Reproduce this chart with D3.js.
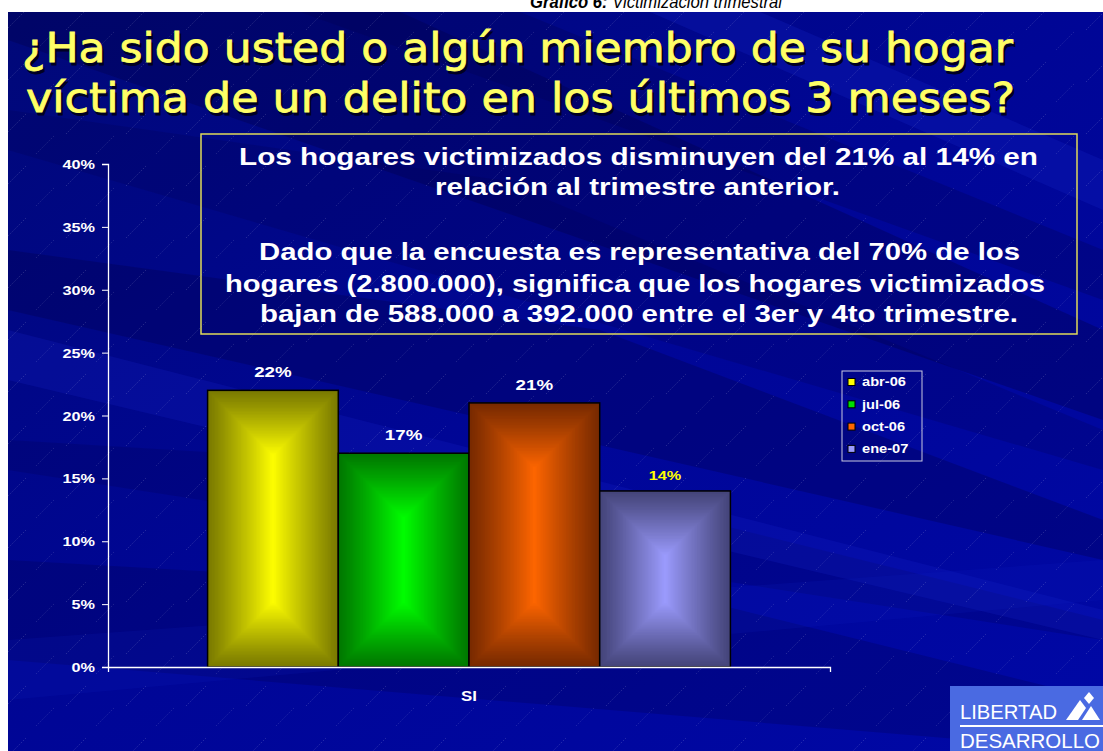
<!DOCTYPE html>
<html><head><meta charset="utf-8">
<script src="https://cdn.jsdelivr.net/npm/d3@7"></script>
<style>body{margin:0;background:#fff}svg{display:block}</style>
</head><body>
<script>
const categories = ["SI"];
const series = ["abr-06", "jul-06", "oct-06", "ene-07"];
const values = [0.22, 0.17, 0.21, 0.14];
const valueLabels = ["22%", "17%", "21%", "14%"];
const yTicks = [0, 0.05, 0.10, 0.15, 0.20, 0.25, 0.30, 0.35, 0.40];
const titleLines = ["¿Ha sido usted o algún miembro de su hogar", "víctima de un delito en los últimos 3 meses?"];
const boxLines = ["Los hogares victimizados disminuyen  del 21% al 14% en", "relación al trimestre anterior.", "Dado que la encuesta es representativa del 70% de los", "hogares (2.800.000), significa que los hogares victimizados", "bajan de 588.000 a 392.000 entre el 3er y 4to trimestre."];

const W = 1103, H = 751;
const FONT = "Liberation Sans, Arial, sans-serif";
const svg = d3.select("body").append("svg").attr("width", W).attr("height", H);
const defs = svg.append("defs");

function stretch(sel, f) {
  sel.each(function () {
    const n = this.getComputedTextLength();
    d3.select(this).attr("textLength", n * f).attr("lengthAdjust", "spacingAndGlyphs");
  });
}

const colors = [["#7a7a00", "#ffff00"], ["#007800", "#00ff00"], ["#782a00", "#ff6600"], ["#45457a", "#9c9cff"]];
const legendColors = ["#ffff00", "#00e000", "#ff6600", "#9a9aff"];

const pat = defs.append("pattern").attr("id", "hatch").attr("patternUnits", "userSpaceOnUse").attr("width", 60).attr("height", 52);
pat.append("line").attr("x1", 6).attr("y1", 30).attr("x2", 26).attr("y2", 10)
  .attr("stroke", "#ffffff").attr("stroke-opacity", 0.18).attr("stroke-width", 0.8).attr("stroke-dasharray", "1.5,1.5");
pat.append("line").attr("x1", 36).attr("y1", 50).attr("x2", 54).attr("y2", 32)
  .attr("stroke", "#ffffff").attr("stroke-opacity", 0.14).attr("stroke-width", 0.8).attr("stroke-dasharray", "1.5,1.5");

const bgGrad = defs.append("linearGradient").attr("id", "bg").attr("x1", "0").attr("y1", "0").attr("x2", "1").attr("y2", "1");
bgGrad.append("stop").attr("offset", "0%").attr("stop-color", "#000878");
bgGrad.append("stop").attr("offset", "50%").attr("stop-color", "#000696");
bgGrad.append("stop").attr("offset", "100%").attr("stop-color", "#0008a6");

// top header (cut off by the slide)
const hdr = svg.append("text").attr("x", 530).attr("y", 8)
  .attr("font-family", FONT).attr("font-size", 19).attr("font-style", "italic").attr("fill", "#000");
hdr.append("tspan").attr("font-weight", "bold").text("Gráfico 6: ");
hdr.append("tspan").text("Victimización trimestral");
hdr.attr("textLength", 252).attr("lengthAdjust", "spacingAndGlyphs");

// background
const bgX = 8, bgY = 12;
svg.append("rect").attr("x", bgX).attr("y", bgY).attr("width", W - bgX).attr("height", H - bgY).attr("fill", "url(#bg)");
defs.append("clipPath").attr("id", "bgclip").append("rect").attr("x", bgX).attr("y", bgY).attr("width", W - bgX).attr("height", H - bgY);
const bands = svg.append("g").attr("clip-path", "url(#bgclip)");
const darkBands = [
  [[8,12],[400,12],[1103,330],[1103,420],[8,40]],
  [[8,250],[600,330],[1103,520],[1103,560],[8,310]],
  [[300,12],[520,12],[1103,250],[1103,300]],
  [[8,560],[700,600],[1103,700],[1103,751],[8,660]],
  [[8,110],[500,180],[1103,430],[1103,470],[8,150]],
  [[8,440],[500,470],[1103,620],[1103,640],[8,470]]
];
const bandOp = [0.35, 0.3, 0.25, 0.25, 0.2, 0.2];
darkBands.forEach((p, i) => bands.append("polygon").attr("points", p.map(d => d.join(",")).join(" "))
  .attr("fill", "#00004a").attr("opacity", bandOp[i]));
bands.append("polygon").attr("points", "8,330 1103,610 1103,640 8,380").attr("fill", "#1a2ad0").attr("opacity", 0.2);
bands.append("polygon").attr("points", "650,12 760,12 1103,160 1103,210").attr("fill", "#1020c0").attr("opacity", 0.3);
bands.append("polygon").attr("points", "8,640 1103,560 1103,600 8,700").attr("fill", "#1020c0").attr("opacity", 0.15);
svg.append("rect").attr("x", bgX).attr("y", bgY).attr("width", W - bgX).attr("height", H - bgY).attr("fill", "url(#hatch)");

// title
const titleG = svg.append("g").attr("font-family", "DejaVu Sans, sans-serif").attr("font-size", 40);
const titleX = [22, 26], titleY = [62, 112], titleLen = [991, 989];
titleLines.forEach((l, i) => {
  titleG.append("text").attr("x", titleX[i] + 2).attr("y", titleY[i] + 2.5).attr("fill", "#000022")
    .attr("stroke", "#000022").attr("stroke-width", 0.8)
    .attr("textLength", titleLen[i]).attr("lengthAdjust", "spacingAndGlyphs").text(l);
  titleG.append("text").attr("x", titleX[i]).attr("y", titleY[i]).attr("fill", "#ffff66")
    .attr("stroke", "#ffff66").attr("stroke-width", 0.8)
    .attr("textLength", titleLen[i]).attr("lengthAdjust", "spacingAndGlyphs").text(l);
});

// scales
const y = d3.scaleLinear().domain([0, 0.4]).range([667, 164]);
const x0 = d3.scaleBand().domain(categories).range([108, 830]).padding(0.16);
const x1 = d3.scaleBand().domain(series).range([0, x0.bandwidth()]).padding(0);

// y axis
const yAxis = svg.append("g").attr("transform", "translate(108,0)")
  .call(d3.axisLeft(y).tickValues(yTicks).tickFormat(d3.format(".0%")).tickSizeOuter(0).tickSize(6).tickPadding(7));
yAxis.select(".domain").attr("stroke", "#fff").attr("stroke-width", 1.3);
yAxis.selectAll(".tick line").attr("stroke", "#fff");
yAxis.selectAll(".tick text").attr("fill", "#fff").attr("font-family", FONT)
  .attr("font-weight", "bold").attr("font-size", 13).attr("dy", "0.35em").call(stretch, 1.25);

// bars: rectangular "from centre" gradient built from nested rects
const barG = svg.append("g").attr("transform", `translate(${x0("SI")},0)`);
const STEPS = 45;
series.forEach((s, i) => {
  const bx = x1(s), by = y(values[i]), bw = x1.bandwidth(), bh = y(0) - y(values[i]);
  const interp = d3.interpolateRgb(colors[i][0], colors[i][1]);
  const maxInset = Math.min(bw, bh) / 2;
  const g = barG.append("g");
  d3.range(STEPS).forEach(k => {
    const t = k / STEPS;
    const d = t * maxInset;
    g.append("rect").attr("x", bx + d).attr("y", by + d).attr("width", Math.max(0, bw - 2 * d)).attr("height", Math.max(0, bh - 2 * d))
      .attr("fill", interp(Math.pow(t, 1.1)));
  });
  barG.append("rect").attr("x", bx).attr("y", by).attr("width", bw).attr("height", bh)
    .attr("fill", "none").attr("stroke", "#000").attr("stroke-width", 1.5);
  barG.append("text").attr("x", bx + bw / 2).attr("y", by - (i === 3 ? 11 : 13))
    .attr("text-anchor", "middle").attr("font-family", FONT).attr("font-weight", "bold")
    .attr("font-size", i === 3 ? 13 : 15).attr("fill", i === 3 ? "#ffff00" : "#ffffff").text(valueLabels[i])
    .call(stretch, 1.25);
});

// x axis
const xAxis = svg.append("g").attr("transform", "translate(0,667)")
  .call(d3.axisBottom(x0).tickSize(0).tickSizeOuter(5).tickPadding(24));
xAxis.select(".domain").attr("stroke", "#fff").attr("stroke-width", 1.3);
xAxis.selectAll(".tick text").attr("fill", "#fff").attr("font-family", FONT)
  .attr("font-weight", "bold").attr("font-size", 14).call(stretch, 1.2);

// text box
svg.append("rect").attr("x", 201).attr("y", 134).attr("width", 876).attr("height", 200)
  .attr("fill", "none").attr("stroke", "#e0da5a").attr("stroke-width", 1.5);
const boxX = [239, 435, 259, 225, 260], boxY = [165, 195, 260, 292, 322], boxLen = [799, 405, 761, 820, 758];
boxLines.forEach((l, i) => {
  svg.append("text").attr("x", boxX[i]).attr("y", boxY[i])
    .attr("font-family", FONT).attr("font-weight", "bold").attr("font-size", 24)
    .attr("textLength", boxLen[i]).attr("lengthAdjust", "spacingAndGlyphs")
    .attr("fill", "#fff").text(l);
});

// legend
const lg = svg.append("g");
lg.append("rect").attr("x", 842).attr("y", 371).attr("width", 80).attr("height", 90).attr("fill", "none").attr("stroke", "#c8c8e0").attr("stroke-width", 1);
series.forEach((s, i) => {
  const yy = 382 + i * 22.3;
  lg.append("rect").attr("x", 848).attr("y", yy - 3.5).attr("width", 7).attr("height", 7).attr("fill", legendColors[i]).attr("stroke", "#000").attr("stroke-width", 1);
  lg.append("text").attr("x", 862).attr("y", yy).attr("dy", "0.35em").attr("font-family", FONT)
    .attr("font-weight", "bold").attr("font-size", 12).attr("fill", "#fff").text(s).call(stretch, 1.22);
});

// logo
const logo = svg.append("g");
logo.append("rect").attr("x", 950).attr("y", 686).attr("width", 153).attr("height", 65).attr("fill", "#4a6ae2");
logo.append("text").attr("x", 960).attr("y", 719).attr("font-family", FONT).attr("font-size", 21).attr("fill", "#fff")
  .attr("textLength", 97).attr("lengthAdjust", "spacingAndGlyphs").text("LIBERTAD");
logo.append("line").attr("x1", 960).attr("x2", 1103).attr("y1", 726).attr("y2", 726).attr("stroke", "#fff").attr("stroke-width", 2);
logo.append("text").attr("x", 960).attr("y", 748).attr("font-family", FONT).attr("font-size", 21).attr("fill", "#fff")
  .attr("textLength", 140).attr("lengthAdjust", "spacingAndGlyphs").text("DESARROLLO");
logo.append("polygon").attr("points", "1066,720 1080,700 1086,708 1078,720").attr("fill", "#fff");
logo.append("polygon").attr("points", "1082,720 1091,706 1100,720").attr("fill", "#fff");
logo.append("polygon").attr("points", "1084,698 1089,692 1094,698 1089,704").attr("fill", "#fff");
</script>
</body></html>
